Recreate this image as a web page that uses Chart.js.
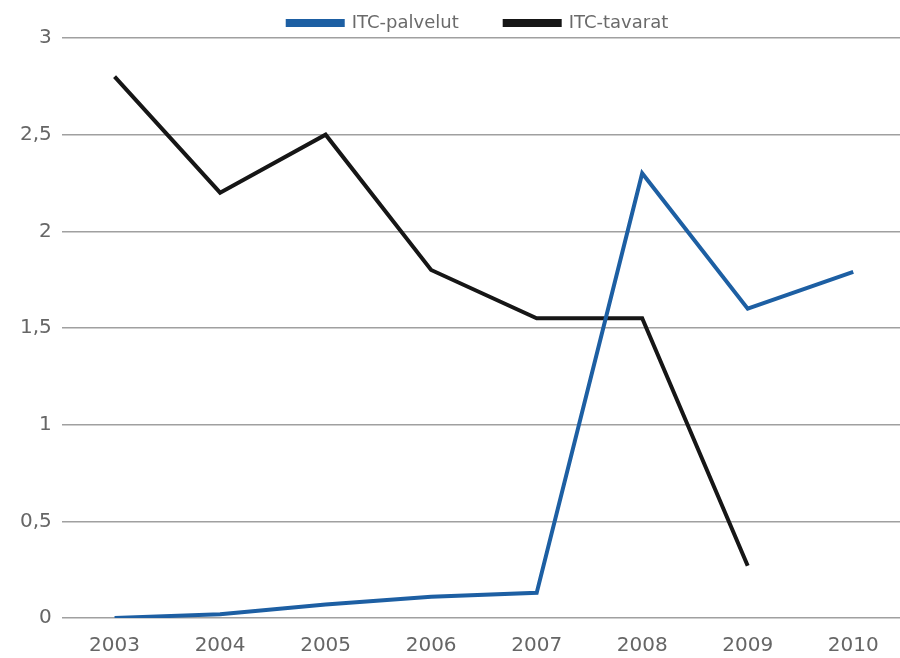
<!DOCTYPE html>
<html>
<head>
<meta charset="utf-8">
<script src="https://cdn.jsdelivr.net/npm/chart.js@4/dist/chart.umd.min.js"></script>
<style>
  html, body { margin: 0; padding: 0; background: #fff; overflow: hidden; }
  #wrap { width: 906px; height: 658px; }
</style>
</head>
<body>
<div id="wrap"><canvas id="kaavio"></canvas></div>
<script>
const vuodet = ['2003', '2004', '2005', '2006', '2007', '2008', '2009', '2010'];
const palvelut = [0, 0.02, 0.07, 0.11, 0.13, 2.3, 1.6, 1.79];
const tavarat = [2.8, 2.2, 2.5, 1.8, 1.55, 1.55, 0.27, null];
const yTicks = [0, 0.5, 1, 1.5, 2, 2.5, 3];

// legenda: leveämpi väli kohteiden välillä, mutta matala laatikko
const legendaSaato = {
  id: 'legendaSaato',
  beforeLayout(chart) {
    const lg = chart.legend;
    if (!lg || lg._saadetty) return;
    const fit = lg.fit;
    lg.fit = function () { fit.call(this); this.height = 70; };
    const draw = lg.draw;
    lg.draw = function () {
      this.ctx.save();
      this.ctx.translate(20, 0);
      draw.call(this);
      this.ctx.restore();
    };
    lg._saadetty = true;
  }
};

const ctx = document.getElementById('kaavio').getContext('2d');

new Chart(ctx, {
  type: 'line',
  data: {
    labels: vuodet,
    datasets: [{
      label: 'ITC-palvelut',
      data: palvelut,
      borderColor: '#1d5fa3',
      backgroundColor: '#1d5fa3',
      borderWidth: 4,
      pointRadius: 0,
      tension: 0
    }, {
      label: 'ITC-tavarat',
      data: tavarat,
      borderColor: '#161616',
      backgroundColor: '#161616',
      borderWidth: 4,
      pointRadius: 0,
      tension: 0
    }]
  },
  options: {
    responsive: true,
    maintainAspectRatio: false,
    animation: false,
    layout: { padding: { left: 10, right: 0, top: -32, bottom: -8 } },
    plugins: {
      legend: {
        display: true,
        position: 'top',
        labels: {
          boxWidth: 55,
          boxHeight: 4,
          padding: 46,
          color: '#6a6a6a',
          font: { family: 'DejaVu Sans', size: 18 }
        }
      },
      tooltip: { enabled: false }
    },
    scales: {
      y: {
        min: 0,
        max: 3,
        afterBuildTicks: axis => { axis.ticks = yTicks.map(v => ({ value: v })); },
        border: { display: false },
        grid: { color: '#a0a0a0', lineWidth: 1.5, drawTicks: false },
        ticks: {
          color: '#666',
          padding: 10,
          font: { family: 'DejaVu Sans', size: 20 },
          callback: v => String(v).replace('.', ',')
        }
      },
      x: {
        offset: true,
        border: { display: false },
        grid: { display: false },
        ticks: {
          color: '#666',
          padding: 8,
          font: { family: 'DejaVu Sans', size: 20 }
        }
      }
    }
  },
  plugins: [legendaSaato]
});
</script>
</body>
</html>
